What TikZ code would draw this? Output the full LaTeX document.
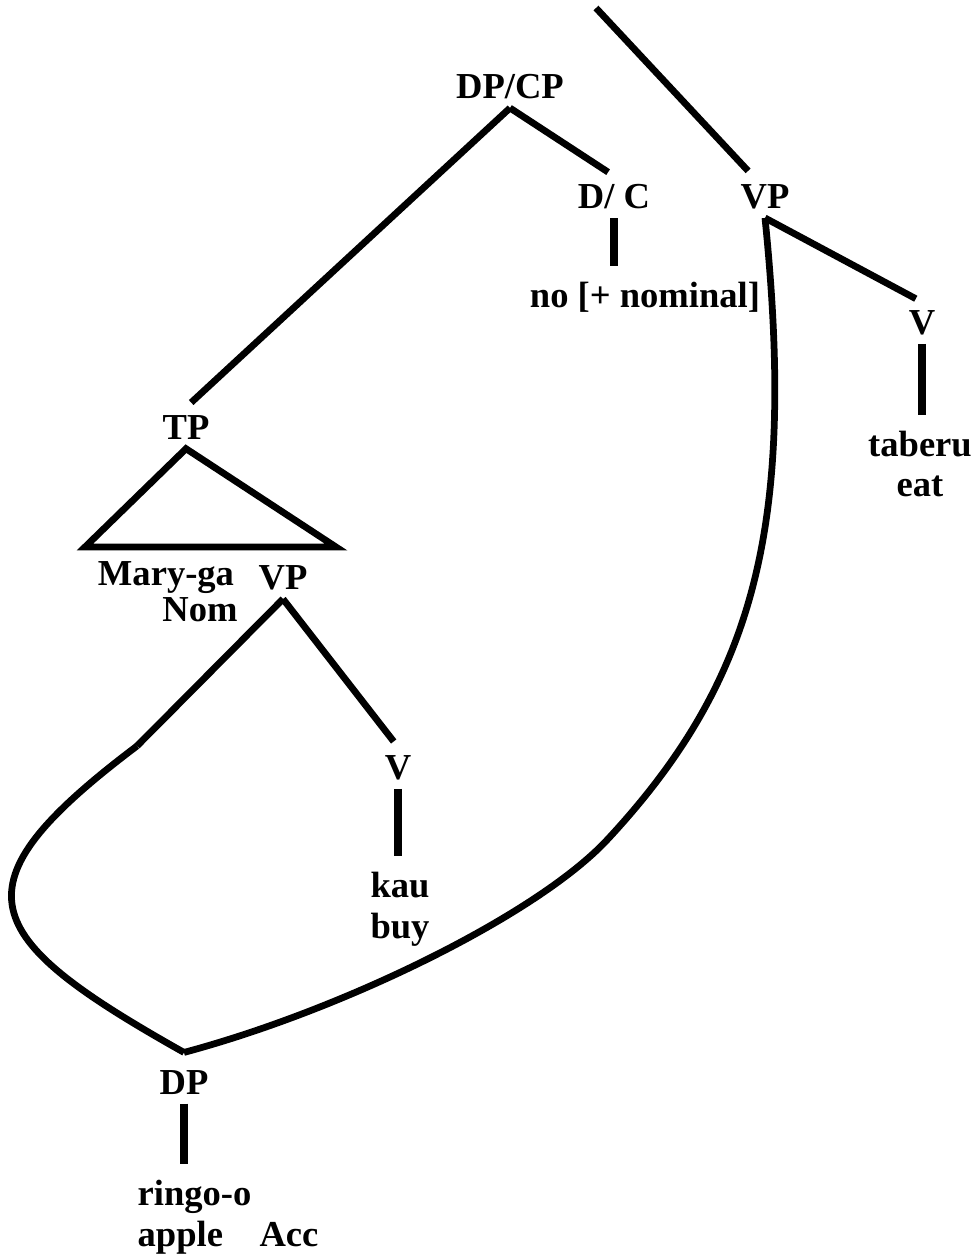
\documentclass[tikz,border=0pt]{standalone}
\usepackage{fontspec}
\setmainfont{Liberation Serif}
\usetikzlibrary{calc}
\tikzset{
  % --- nodes
  lbl/.style = {font=\fontsize{26}{29}\selectfont\bfseries, inner xsep=1pt,
                inner ysep=6pt, align=center},
  leaf/.style = {lbl, align=left},
  % --- edges
  e/.style     = {line width=4.8pt, shorten >=5pt},
  ebar/.style  = {line width=5.5pt, shorten >=5pt},
  ecurve/.style= {line width=4.8pt},
}

\begin{document}
\begin{tikzpicture}[x=0.025cm,y=-0.025cm]
  \useasboundingbox (0,0) rectangle (977,1256);
  % --- upper part
  \node[lbl] (dpcp)    at (510,87)  {DP/CP};
  \node[lbl] (dc)      at (614,197) {D/ C};
  \node[lbl] (nominal) at (645,297) {no [+ nominal]};
  \node[lbl] (vptop)   at (765,197) {VP};
  \node[lbl] (vtab)    at (922,323) {V};
  \node[lbl] (taberu)  at (920,464) {taberu\\eat};
  \coordinate (topfree) at (596,8);
  % --- relative clause
  \node[lbl] (tp)      at (186,428) {TP};
  \coordinate (tpl) at (85,547);
  \coordinate (tpr) at (336,547);
  \node[lbl] (maryga)  at (166,578) {Mary-ga};
  \node[lbl] (vplow)   at (283,578) {VP};
  \node[lbl] (nom)     at (200,610) {Nom};
  \node[lbl] (vkau)    at (398,768) {V};
  \node[lbl] (kau)     at (400,909) {kau\\buy};
  \coordinate (gapl) at (137,746);
  % --- shared object
  \node[lbl] (dp)      at (184,1083) {DP};
  \node[leaf, anchor=west] (ringo) at (136,1217) {ringo-o\\apple\quad Acc};
  \coordinate (bend) at (607,840);

  \draw[e] (topfree) -- (vptop.120);
  \draw[e] (dpcp.south) -- (tp.north);
  \draw[e] (dpcp.south) -- (dc.north);
  \draw[ebar] (dc.south) -- (dc.south |- nominal.north);
  \draw[e] (vptop.south) -- (vtab.north);
  \draw[ebar] (vtab.south) -- (vtab.south |- taberu.north);
  \draw[ecurve, line join=miter] (tp.south) -- (tpr) -- (tpl) -- cycle;
  \draw[e] (vplow.south) -- (vkau.north);
  \draw[ecurve] (vplow.south) -- (gapl);
  \draw[ebar] (vkau.south) -- (vkau.south |- kau.north);
  \draw[ebar] (dp.south) -- (dp.south |- ringo.north);
  % the two paths into DP
  \draw[ecurve] (gapl) .. controls (-50,887) and (-23,936) .. ([yshift=7pt]dp.north);
  \draw[ecurve] (vptop.south) .. controls (796,524) and (756,680) .. (bend)
    .. controls (538,914) and (346,1009) .. ([yshift=7pt]dp.north);
\end{tikzpicture}
\end{document}
